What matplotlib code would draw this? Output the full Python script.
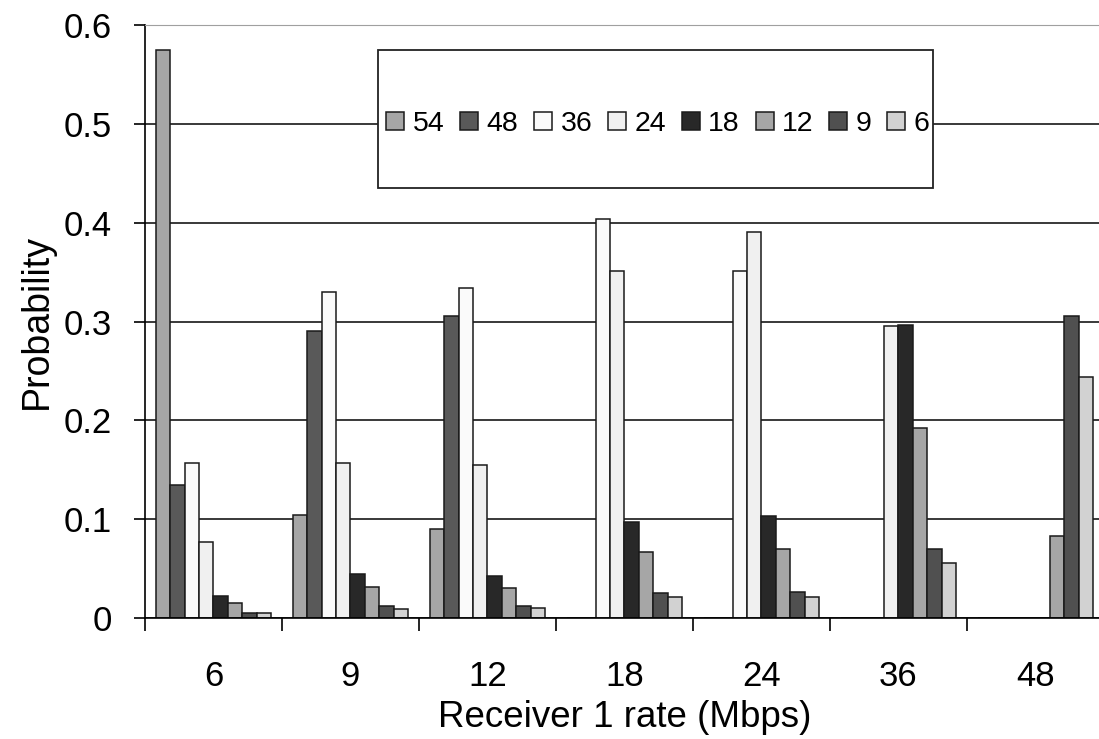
import matplotlib
matplotlib.use('Agg')
import matplotlib.pyplot as plt
import numpy as np
from matplotlib.patches import Rectangle

plt.rcParams['font.family'] = ['Liberation Sans', 'DejaVu Sans']

# receiver 1 rate groups (Mbps)
categories = ['6', '9', '12', '18', '24', '36', '48']

# one series per rate in the legend
series_names = ['54', '48', '36', '24', '18', '12', '9', '6']
s54 = [0.575, 0.104, 0.090, 0, 0, 0, 0]
s48 = [0.135, 0.290, 0.306, 0, 0, 0, 0]
s36 = [0.157, 0.330, 0.334, 0.404, 0.351, 0, 0]
s24 = [0.077, 0.157, 0.155, 0.351, 0.391, 0.295, 0]
s18 = [0.022, 0.045, 0.043, 0.097, 0.103, 0.296, 0]
s12 = [0.015, 0.031, 0.030, 0.067, 0.070, 0.192, 0.083]
s9 = [0.005, 0.012, 0.012, 0.025, 0.026, 0.070, 0.306]
s6 = [0.005, 0.009, 0.010, 0.021, 0.021, 0.056, 0.244]
series = [s54, s48, s36, s24, s18, s12, s9, s6]

colors = ['#a6a6a6', '#595959', '#fafafa', '#f0f0f0',
          '#282828', '#a6a6a6', '#505050', '#d2d2d2']

fig = plt.figure(figsize=(10.99, 7.39), dpi=100)
ax = fig.add_axes([0.1319, 0.1637, 0.8726, 0.8024])

x = np.arange(len(categories))
w = 1 / 9.5
for i, (name, vals, c) in enumerate(zip(series_names, series, colors)):
    ax.bar(x + (i - 3.5) * w, vals, width=w, color=c, edgecolor='#1a1a1a',
           linewidth=1.1, label=name, zorder=2)

ax.set_xlim(-0.5, len(categories) - 0.5)
ax.set_ylim(0, 0.6)
ax.set_yticks(np.arange(0, 0.61, 0.1))
ax.set_yticklabels(['0', '0.1', '0.2', '0.3', '0.4', '0.5', '0.6'])

ax.set_axisbelow(True)
ax.grid(axis='y', color='#2a2a2a', linewidth=1.3)
ax.get_ygridlines()[-1].set_color('#a0a0a0')

# group boundaries carry the tick marks, centers carry the labels
ax.set_xticks(np.arange(-0.5, len(categories), 1.0))
ax.set_xticklabels([])
ax.set_xticks(x, minor=True)
ax.set_xticklabels(categories, minor=True)
ax.tick_params(axis='x', which='major', direction='out', length=9, width=1.2)
ax.tick_params(axis='x', which='minor', length=0, pad=30, labelsize=25)
ax.tick_params(axis='y', direction='out', length=8, width=1.2, pad=16, labelsize=25)

ax.spines['right'].set_visible(False)
ax.spines['top'].set_color('#a0a0a0')
ax.spines['left'].set_linewidth(1.2)
ax.spines['bottom'].set_linewidth(1.2)

ax.set_xlabel('Receiver 1 rate (Mbps)', fontsize=26.5, labelpad=5)
ax.set_ylabel('Probability', fontsize=27, labelpad=6)

box = Rectangle((378 / 1099, 1 - 188 / 739), 555 / 1099, 138 / 739,
                transform=fig.transFigure, facecolor='white',
                edgecolor='#222222', linewidth=1.3, zorder=3)
ax.add_patch(box)
leg = ax.legend(ncol=8, loc='center', bbox_to_anchor=(658 / 1099, 1 - 124 / 739),
                bbox_transform=fig.transFigure, frameon=False, fontsize=20.5,
                handlelength=0.63, handleheight=0.63, handletextpad=0.3,
                columnspacing=0.55, borderpad=0)
leg.set_zorder(5)

fig.savefig('out.png', dpi=100)
